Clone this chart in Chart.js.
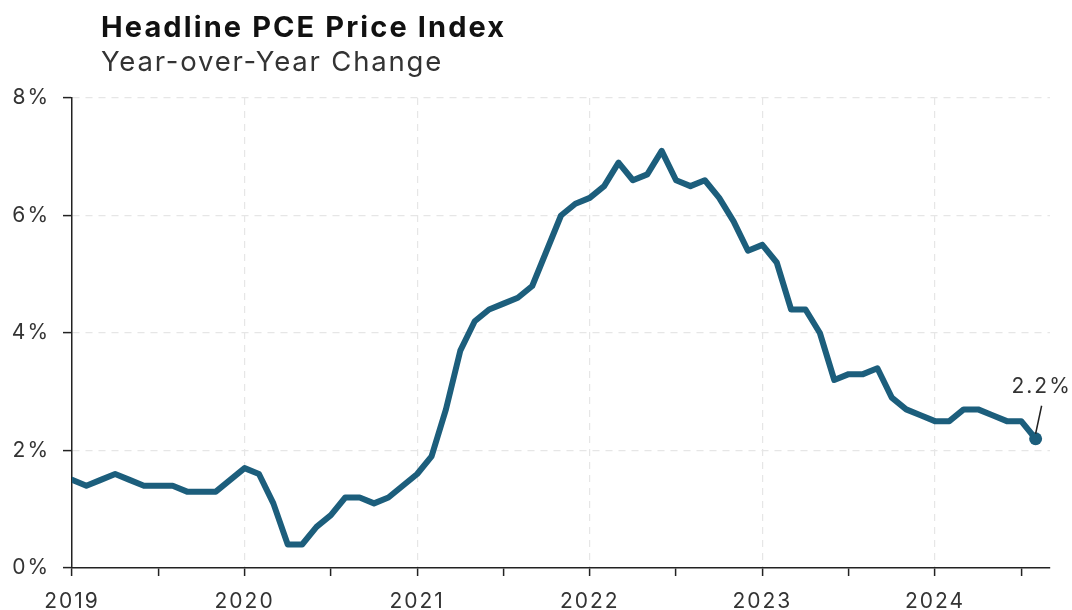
<!DOCTYPE html>
<html>
<head>
<meta charset="utf-8">
<script src="https://cdn.jsdelivr.net/npm/chart.js@4"></script>
<style>
  html, body { margin: 0; padding: 0; background: #fff; }
  #wrap { position: relative; width: 1072px; height: 610px; overflow: hidden; }
  #title { position: absolute; left: 101px; top: 12px; font: 700 29px/29px Inter, sans-serif; color: #111; letter-spacing: 2.1px; white-space: nowrap; }
  #subtitle { position: absolute; left: 101px; top: 48px; font: 400 27.5px/27.5px Inter, sans-serif; color: #333; letter-spacing: 1.8px; white-space: nowrap; }
  canvas { position: absolute; left: 0; top: 0; }
</style>
</head>
<body>
<div id="wrap">
  <canvas id="pce" width="1072" height="610"></canvas>
  <div id="title">Headline PCE Price Index</div>
  <div id="subtitle">Year-over-Year Change</div>
</div>
<script>
// Headline PCE, year-over-year %, monthly from Jan 2019 through Aug 2024
const pceYoY = [
  1.5, 1.4, 1.5, 1.6, 1.5, 1.4, 1.4, 1.4, 1.3, 1.3, 1.3, 1.5, // 2019
  1.7, 1.6, 1.1, 0.4, 0.4, 0.7, 0.9, 1.2, 1.2, 1.1, 1.2, 1.4, // 2020
  1.6, 1.9, 2.7, 3.7, 4.2, 4.4, 4.5, 4.6, 4.8, 5.4, 6.0, 6.2, // 2021
  6.3, 6.5, 6.9, 6.6, 6.7, 7.1, 6.6, 6.5, 6.6, 6.3, 5.9, 5.4, // 2022
  5.5, 5.2, 4.4, 4.4, 4.0, 3.2, 3.3, 3.3, 3.4, 2.9, 2.7, 2.6, // 2023
  2.5, 2.5, 2.7, 2.7, 2.6, 2.5, 2.5, 2.2                      // 2024
];
const yearLabels = ['2019', '2020', '2021', '2022', '2023', '2024'];
const yTicks = [0, 2, 4, 6, 8];

const lineColor = '#1c5e7c';
const lastIdx = pceYoY.length - 1;

// tick every half year, label only on January
const xTickValues = [];
for (let m = 0; m <= lastIdx; m += 6) xTickValues.push(m);

// wider tracking for all canvas text
const spacing = {
  id: 'spacing',
  beforeUpdate(chart) { chart.ctx.letterSpacing = '2px'; },
  beforeDraw(chart) { chart.ctx.letterSpacing = '2px'; }
};

const lastValueLabel = {
  id: 'lastValueLabel',
  afterDatasetsDraw(chart) {
    const pt = chart.getDatasetMeta(0).data[lastIdx];
    if (!pt) return;
    const { ctx } = chart;
    ctx.save();
    ctx.strokeStyle = '#222';
    ctx.lineWidth = 1.5;
    ctx.beginPath();
    ctx.moveTo(pt.x + 6, pt.y - 33);
    ctx.lineTo(pt.x, pt.y - 5);
    ctx.stroke();
    ctx.fillStyle = '#333';
    ctx.font = '21px Inter, sans-serif';
    ctx.textAlign = 'center';
    ctx.textBaseline = 'middle';
    ctx.fillText(pceYoY[lastIdx].toFixed(1) + '%', pt.x + 6, pt.y - 52);
    ctx.restore();
  }
};

new Chart(document.getElementById('pce'), {
  type: 'line',
  data: {
    datasets: [{
      data: pceYoY.map((v, i) => ({ x: i, y: v })),
      borderColor: lineColor,
      backgroundColor: lineColor,
      borderWidth: 6,
      borderJoinStyle: 'round',
      borderCapStyle: 'round',
      pointRadius: ctx => ctx.dataIndex === lastIdx ? 6.5 : 0,
      pointBorderWidth: 0,
      tension: 0,
    }],
  },
  options: {
    responsive: false,
    animation: false,
    events: [],
    layout: { padding: { top: 98, right: 22, bottom: 0, left: 0 } },
    plugins: { legend: { display: false }, tooltip: { enabled: false } },
    scales: {
      x: {
        type: 'linear',
        min: 0,
        max: 68,
        afterBuildTicks: s => { s.ticks = xTickValues.map(v => ({ value: v })); },
        afterFit: s => { s.height = 42; },
        border: { display: true, color: '#222', width: 1.5, dash: [7, 6] },
        grid: {
          color: c => (c.tick && c.tick.value % 12 === 0 && c.tick.value > 0) ? '#e6e6e6' : 'transparent',
          lineWidth: 1.2,
          tickColor: '#222',
          tickLength: 8,
          tickWidth: 1.5,
        },
        ticks: {
          padding: 13,
          maxRotation: 0,
          autoSkip: false,
          color: '#333',
          font: { family: 'Inter, sans-serif', size: 21 },
          callback: v => v % 12 === 0 ? yearLabels[v / 12] : '',
        },
      },
      y: {
        min: 0,
        max: 8,
        afterBuildTicks: s => { s.ticks = yTicks.map(v => ({ value: v })); },
        afterFit: s => { s.width = 72; },
        border: { display: true, color: '#222', width: 1.5, dash: [7, 6] },
        grid: {
          color: c => (c.tick && c.tick.value > 0) ? '#e6e6e6' : 'transparent',
          lineWidth: 1.2,
          tickColor: '#222',
          tickLength: 9,
          tickWidth: 1.5,
        },
        ticks: {
          padding: 13,
          color: '#333',
          font: { family: 'Inter, sans-serif', size: 21 },
          callback: v => v + '%',
        },
      },
    },
  },
  plugins: [spacing, lastValueLabel],
});
</script>
</body>
</html>
